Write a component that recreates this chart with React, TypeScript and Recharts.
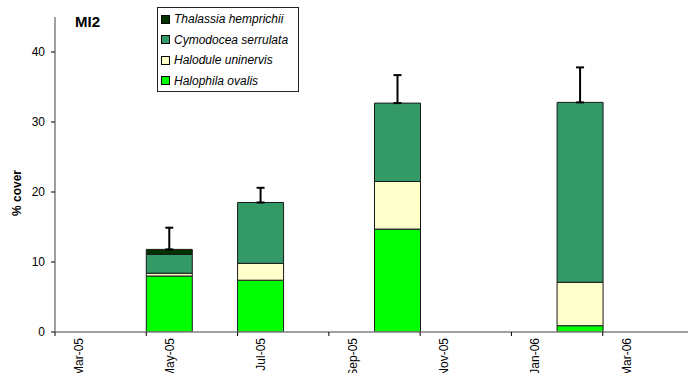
import React from 'react';
import { BarChart, Bar, XAxis, YAxis, ErrorBar } from 'recharts';

// monthly categories on the date axis, Mar-05 .. Apr-06
const months = [
  'Mar-05', 'Apr-05', 'May-05', 'Jun-05', 'Jul-05', 'Aug-05', 'Sep-05',
  'Oct-05', 'Nov-05', 'Dec-05', 'Jan-06', 'Feb-06', 'Mar-06', 'Apr-06',
];

// % cover per species, null where the site was not surveyed
const halophila = [null, null, 8.0, null, 7.4, null, null, 14.7, null, null, null, 0.9, null, null];
const halodule = [null, null, 0.4, null, 2.4, null, null, 6.8, null, null, null, 6.2, null, null];
const cymodocea = [null, null, 2.7, null, 8.7, null, null, 11.2, null, null, null, 25.7, null, null];
const thalassia = [null, null, 0.7, null, 0, null, null, 0, null, null, null, 0, null, null];
// standard error of total cover (upper bar only)
const totalErr = [null, null, 3.1, null, 2.1, null, null, 4.0, null, null, null, 5.0, null, null];

const yTicks = [0, 10, 20, 30, 40];

const species = [
  { key: 'halophila', name: 'Halophila ovalis', color: '#00ff00' },
  { key: 'halodule', name: 'Halodule uninervis', color: '#ffffcc' },
  { key: 'cymodocea', name: 'Cymodocea serrulata', color: '#339966' },
  { key: 'thalassia', name: 'Thalassia hemprichii', color: '#003300' },
];

// the error bar hangs off whichever species is on top of the stack
const data = months.map((month, i) => {
  const err = totalErr[i];
  const thalTop = (thalassia[i] ?? 0) > 0;
  return {
    month,
    halophila: halophila[i],
    halodule: halodule[i],
    cymodocea: cymodocea[i],
    thalassia: thalassia[i],
    errThalassia: err != null && thalTop ? [0, err] : null,
    errCymodocea: err != null && !thalTop ? [0, err] : null,
  };
});

const FONT = "Arial, 'Liberation Sans', sans-serif";
const AXIS = '#808080';

// labels sit in the middle of each month, tick marks on the month boundary
const MonthTick = (props: any) => {
  const { x, y, payload, width } = props;
  const band = (width || 639) / months.length;
  const left = x - band / 2;
  return (
    <g>
      <line x1={left} y1={y - 6} x2={left} y2={y - 2} stroke="#000" strokeWidth={1} />
      <text
        x={x + 1}
        y={y}
        transform={`rotate(-90 ${x + 1} ${y})`}
        textAnchor="end"
        dominantBaseline="central"
        fontSize={12}
        fontFamily={FONT}
        fill="#000"
      >
        {payload.value}
      </text>
    </g>
  );
};

const YLabel = () => (
  <text
    x={17}
    y={193}
    transform="rotate(-90 17 193)"
    textAnchor="middle"
    dominantBaseline="central"
    fontSize={12}
    fontWeight="bold"
    fontFamily={FONT}
    fill="#000"
  >
    % cover
  </text>
);

const App = () => {
  return (
    <div
      style={{
        position: 'absolute',
        left: 0,
        top: 0,
        width: 688,
        height: 373,
        overflow: 'hidden',
        background: '#fff',
        fontFamily: FONT,
      }}
    >
      <BarChart
        width={700}
        height={373}
        data={data}
        margin={{ top: 17, right: 6, bottom: 0, left: 0 }}
        barCategoryGap={0}
      >
        <XAxis
          dataKey="month"
          interval={1}
          tickLine={false}
          tickSize={0}
          tickMargin={6}
          height={41}
          axisLine={{ stroke: AXIS, strokeWidth: 1.5 }}
          tick={<MonthTick />}
        />
        <YAxis
          width={55}
          domain={[0, 45]}
          ticks={yTicks}
          allowDataOverflow
          tickSize={4}
          tickMargin={6}
          axisLine={{ stroke: AXIS, strokeWidth: 1.5 }}
          tickLine={{ stroke: '#000' }}
          tick={{ fontSize: 12, fill: '#000', fontFamily: FONT }}
          label={<YLabel />}
        />
        {species.map((s) => (
          <Bar
            key={s.key}
            dataKey={s.key}
            name={s.name}
            stackId="cover"
            fill={s.color}
            stroke="#1a1a1a"
            strokeWidth={1}
            isAnimationActive={false}
          >
            {s.key === 'thalassia' && (
              <ErrorBar dataKey="errThalassia" width={4} stroke="#000" strokeWidth={2} direction="y" />
            )}
            {s.key === 'cymodocea' && (
              <ErrorBar dataKey="errCymodocea" width={4} stroke="#000" strokeWidth={2} direction="y" />
            )}
          </Bar>
        ))}
      </BarChart>

      <div
        style={{
          position: 'absolute',
          left: 75,
          top: 13,
          fontSize: 15,
          fontWeight: 'bold',
          color: '#000',
        }}
      >
        MI2
      </div>

      <div
        style={{
          position: 'absolute',
          left: 157,
          top: 7,
          width: 140,
          height: 82,
          border: '1px solid #222',
          background: '#fff',
          paddingTop: 1,
          boxSizing: 'content-box',
        }}
      >
        {[...species].reverse().map((s) => (
          <div
            key={s.key}
            style={{ display: 'flex', alignItems: 'center', height: 20.5 }}
          >
            <span
              style={{
                display: 'inline-block',
                width: 7,
                height: 7,
                marginLeft: 3,
                marginRight: 4,
                background: s.color,
                border: '1px solid #000',
              }}
            />
            <span style={{ fontSize: 12, fontStyle: 'italic', color: '#000' }}>{s.name}</span>
          </div>
        ))}
      </div>
    </div>
  );
};

export default App;
